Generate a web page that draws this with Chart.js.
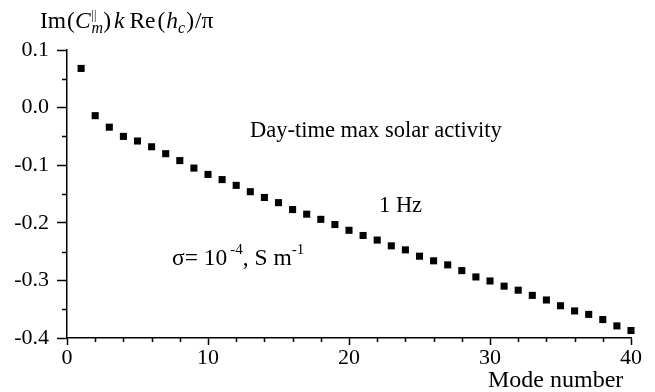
<!DOCTYPE html>
<html>
<head>
<meta charset="utf-8">
<script src="https://cdn.jsdelivr.net/npm/chart.js@4.4.1/dist/chart.umd.min.js"></script>
<style>
  html, body { margin: 0; padding: 0; background: #fff; }
  canvas { display: block; }
</style>
</head>
<body>
<canvas id="modes" width="655" height="392"></canvas>
<script>
// mode numbers and Im(C||m) k Re(hc)/pi
const modeNumbers = [1, 2, 3, 4, 5, 6, 7, 8, 9, 10,
                     11, 12, 13, 14, 15, 16, 17, 18, 19, 20,
                     21, 22, 23, 24, 25, 26, 27, 28, 29, 30,
                     31, 32, 33, 34, 35, 36, 37, 38, 39, 40];
const imValues = [0.068, -0.014, -0.034, -0.050, -0.058, -0.068, -0.080, -0.092, -0.105, -0.116,
                  -0.125, -0.135, -0.146, -0.156, -0.165, -0.177, -0.185, -0.194, -0.203, -0.213,
                  -0.222, -0.230, -0.240, -0.247, -0.258, -0.266, -0.273, -0.283, -0.294, -0.301,
                  -0.310, -0.317, -0.326, -0.334, -0.344, -0.353, -0.359, -0.368, -0.379, -0.387];
const xTicks = [0, 10, 20, 30, 40];
const yTicks = [-0.4, -0.3, -0.2, -0.1, 0.0, 0.1];
const xMinor = [2, 4, 6, 8, 12, 14, 16, 18, 22, 24, 26, 28, 32, 34, 36, 38];
const yMinor = [-0.35, -0.25, -0.15, -0.05, 0.05];

const serif = "'Liberation Serif', 'Times New Roman', serif";

// draws a run of text pieces, each with its own font and vertical shift
function drawRich(ctx, x, y, parts) {
  let cx = x;
  parts.forEach(p => {
    ctx.font = p.font;
    ctx.fillText(p.t, cx, y + (p.dy || 0));
    let w = ctx.measureText(p.t).width;
    if (p.under) {
      ctx.font = p.under.font;
      ctx.fillText(p.under.t, cx, y + p.under.dy);
      w = Math.max(w, ctx.measureText(p.under.t).width);
    }
    cx += w + (p.gap || 0);
  });
}

const extras = {
  id: 'extras',
  afterDraw(chart) {
    const ctx = chart.ctx;
    const xs = chart.scales.x, ys = chart.scales.y;
    const area = chart.chartArea;
    ctx.save();
    // minor ticks
    ctx.strokeStyle = '#000';
    ctx.lineWidth = 1.5;
    ctx.beginPath();
    yMinor.forEach(v => {
      const py = Math.round(ys.getPixelForValue(v)) + 0.5;
      ctx.moveTo(area.left - 5, py);
      ctx.lineTo(area.left, py);
    });
    xMinor.forEach(v => {
      const px = Math.round(xs.getPixelForValue(v)) + 0.5;
      ctx.moveTo(px, area.bottom);
      ctx.lineTo(px, area.bottom + 4);
    });
    ctx.stroke();

    ctx.fillStyle = '#000';
    ctx.textBaseline = 'alphabetic';
    ctx.textAlign = 'left';
    const reg = '23.5px ' + serif, it = 'italic 23.5px ' + serif;
    const smallIt = 'italic 16px ' + serif, small = '12px ' + serif;
    drawRich(ctx, 40, 28, [
      {t: 'Im', font: reg, gap: 1},
      {t: '(', font: reg},
      {t: 'C', font: it, gap: 1},
      {t: '||', font: small, dy: -9, under: {t: 'm', font: smallIt, dy: 5}},
      {t: ')', font: reg, gap: 3},
      {t: 'k', font: it, gap: 5},
      {t: 'Re', font: reg, gap: 2},
      {t: '(', font: reg, gap: 1},
      {t: 'h', font: it},
      {t: 'c', font: smallIt, dy: 5, gap: 1},
      {t: ')', font: reg, gap: 1},
      {t: '/\u03c0', font: reg}
    ]);

    ctx.font = '22.5px ' + serif;
    ctx.fillText('Day-time max solar activity', 250, 137);
    ctx.fillText('1 Hz', 379, 212);

    const sf = '23.5px ' + serif, sup = '15px ' + serif;
    drawRich(ctx, 172, 265, [
      {t: '\u03c3= 10', font: sf, gap: 3},
      {t: '-4', font: sup, dy: -11},
      {t: ', S m', font: sf},
      {t: '-1', font: sup, dy: -11}
    ]);

    ctx.font = '24px ' + serif;
    ctx.fillText('Mode number', 488, 387);
    ctx.restore();
  }
};

const points = modeNumbers.map((m, i) => ({x: m, y: imValues[i]}));

new Chart(document.getElementById('modes'), {
  type: 'scatter',
  data: {
    datasets: [{
      label: 'Im(C) k Re(hc)/pi',
      data: points,
      pointStyle: 'rect',
      pointRadius: 5,
      pointHoverRadius: 5,
      pointBorderWidth: 0,
      backgroundColor: '#000',
      borderColor: '#000',
      clip: false
    }]
  },
  options: {
    responsive: false,
    animation: false,
    layout: { padding: { top: 50, right: 24, bottom: 0, left: 0 } },
    plugins: {
      legend: { display: false },
      tooltip: { enabled: false },
      title: { display: false }
    },
    scales: {
      x: {
        type: 'linear',
        min: xTicks[0],
        max: xTicks[xTicks.length - 1],
        border: { color: '#000', width: 1.5 },
        grid: { drawOnChartArea: false, drawTicks: true, tickLength: 7, color: '#000', tickWidth: 1.5 },
        ticks: {
          stepSize: xTicks[1] - xTicks[0],
          color: '#000',
          padding: 0,
          maxRotation: 0,
          font: { family: serif, size: 22 }
        },
        afterFit(scale) { scale.height = 54; }
      },
      y: {
        min: yTicks[0],
        max: yTicks[yTicks.length - 1],
        border: { color: '#000', width: 1.5 },
        grid: { drawOnChartArea: false, drawTicks: true, tickLength: 10, color: '#000', tickWidth: 1.5 },
        ticks: {
          stepSize: 0.1,
          color: '#000',
          padding: 8,
          font: { family: serif, size: 22 },
          callback: v => Number(v).toFixed(1)
        },
        afterFit(scale) { scale.width = 67; }
      }
    }
  },
  plugins: [extras]
});
</script>
</body>
</html>
